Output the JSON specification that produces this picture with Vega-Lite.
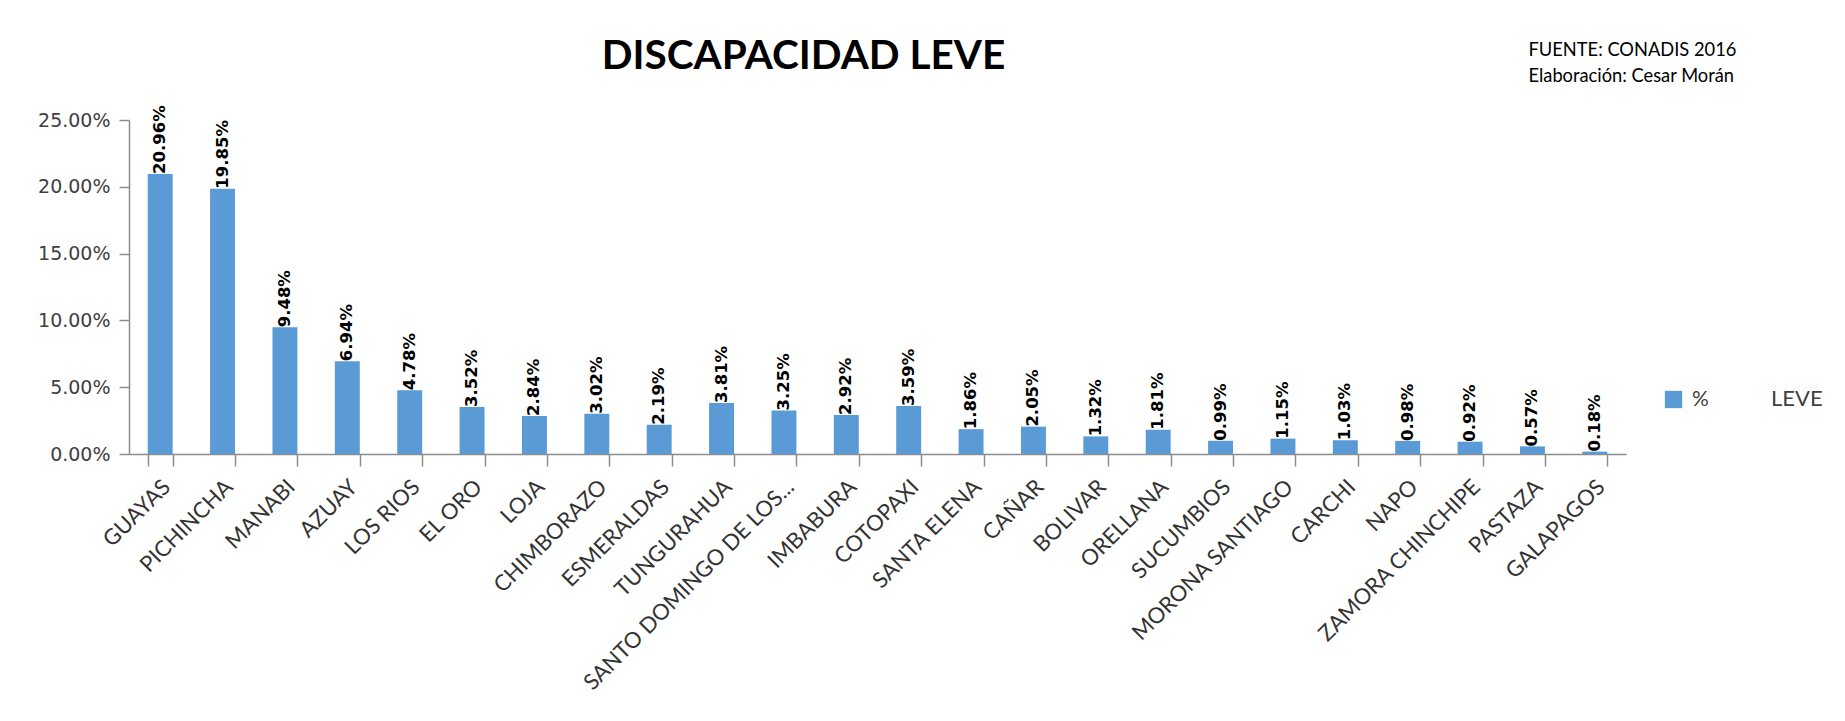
{
  "$schema": "https://vega.github.io/schema/vega-lite/v6.json",
  "width": 1497,
  "height": 334,
  "autosize": {"type": "none"},
  "padding": {"left": 129, "top": 120, "right": 219, "bottom": 267},
  "background": "white",
  "config": {"view": {"stroke": null}},
  "data": {
    "values": [
      {"provincia": "GUAYAS", "v": 0.2096},
      {"provincia": "PICHINCHA", "v": 0.1985},
      {"provincia": "MANABI", "v": 0.0948},
      {"provincia": "AZUAY", "v": 0.0694},
      {"provincia": "LOS RIOS", "v": 0.0478},
      {"provincia": "EL ORO", "v": 0.0352},
      {"provincia": "LOJA", "v": 0.0284},
      {"provincia": "CHIMBORAZO", "v": 0.0302},
      {"provincia": "ESMERALDAS", "v": 0.0219},
      {"provincia": "TUNGURAHUA", "v": 0.0381},
      {"provincia": "SANTO DOMINGO DE LOS...", "v": 0.0325},
      {"provincia": "IMBABURA", "v": 0.0292},
      {"provincia": "COTOPAXI", "v": 0.0359},
      {"provincia": "SANTA ELENA", "v": 0.0186},
      {"provincia": "CAÑAR", "v": 0.0205},
      {"provincia": "BOLIVAR", "v": 0.0132},
      {"provincia": "ORELLANA", "v": 0.0181},
      {"provincia": "SUCUMBIOS", "v": 0.0099},
      {"provincia": "MORONA SANTIAGO", "v": 0.0115},
      {"provincia": "CARCHI", "v": 0.0103},
      {"provincia": "NAPO", "v": 0.0098},
      {"provincia": "ZAMORA CHINCHIPE", "v": 0.0092},
      {"provincia": "PASTAZA", "v": 0.0057},
      {"provincia": "GALAPAGOS", "v": 0.0018}
    ]
  },
  "encoding": {
    "x": {
      "field": "provincia",
      "type": "nominal",
      "sort": null,
      "scale": {"paddingInner": 0.6, "paddingOuter": 0.3},
      "axis": {
        "tickBand": "extent",
        "tickSize": 12,
        "tickWidth": 1.5,
        "tickColor": "#8c8c8c",
        "domainColor": "#8c8c8c",
        "domainWidth": 1.5,
        "labelAngle": -45,
        "labelAlign": "right",
        "labelBaseline": "middle",
        "labelFont": "Lato",
        "labelFontSize": 22,
        "labelPadding": 17,
        "labelOffset": 6,
        "labelLimit": 0,
        "labelOverlap": false,
        "labelBound": false,
        "labelColor": "#333333",
        "title": ["FUENTE: CONADIS 2016", "Elaboración: Cesar Morán"],
        "titleX": 1399,
        "titleY": -399,
        "titleAngle": 0,
        "titleAlign": "left",
        "titleBaseline": "alphabetic",
        "titleFont": "Lato",
        "titleFontSize": 18.3,
        "titleFontWeight": "normal",
        "titleColor": "#000000",
        "titleLineHeight": 26
      }
    },
    "y": {
      "field": "v",
      "type": "quantitative",
      "scale": {"domain": [0, 0.25], "nice": false},
      "axis": {
        "values": [0, 0.05, 0.1, 0.15, 0.2, 0.25],
        "format": ".2%",
        "grid": false,
        "labelFont": "DejaVu Sans",
        "labelFontSize": 19,
        "labelColor": "#404040",
        "labelPadding": 9,
        "tickSize": 10,
        "tickWidth": 1.5,
        "tickColor": "#8c8c8c",
        "domainColor": "#8c8c8c",
        "domainWidth": 1.5,
        "title": "DISCAPACIDAD LEVE",
        "titleAngle": 0,
        "titleX": 674,
        "titleY": -52,
        "titleAlign": "center",
        "titleBaseline": "alphabetic",
        "titleFont": "Lato",
        "titleFontSize": 40.5,
        "titleFontWeight": "bold",
        "titleColor": "#000000"
      }
    }
  },
  "layer": [
    {
      "mark": {"type": "bar", "color": "#5B9BD5"},
      "encoding": {
        "color": {
          "datum": "%",
          "type": "nominal",
          "scale": {"range": ["#5B9BD5"]},
          "legend": {
            "orient": "none",
            "legendX": 1534,
            "legendY": 269,
            "padding": 0,
            "title": "LEVE",
            "titleOrient": "right",
            "titlePadding": 62,
            "titleFont": "Lato",
            "titleFontSize": 22,
            "titleFontWeight": "normal",
            "titleColor": "#404040",
            "titleBaseline": "middle",
            "symbolType": "square",
            "symbolSize": 300,
            "symbolStrokeWidth": 0,
            "labelFont": "Lato",
            "labelFontSize": 21,
            "labelColor": "#404040",
            "labelOffset": 8
          }
        }
      }
    },
    {
      "mark": {
        "type": "text",
        "angle": 270,
        "align": "left",
        "baseline": "middle",
        "font": "DejaVu Sans",
        "fontWeight": "bold",
        "fontSize": 16.5,
        "color": "#000000",
        "dx": 0
      },
      "encoding": {
        "text": {"field": "v", "type": "quantitative", "format": ".2%"}
      }
    }
  ]
}
